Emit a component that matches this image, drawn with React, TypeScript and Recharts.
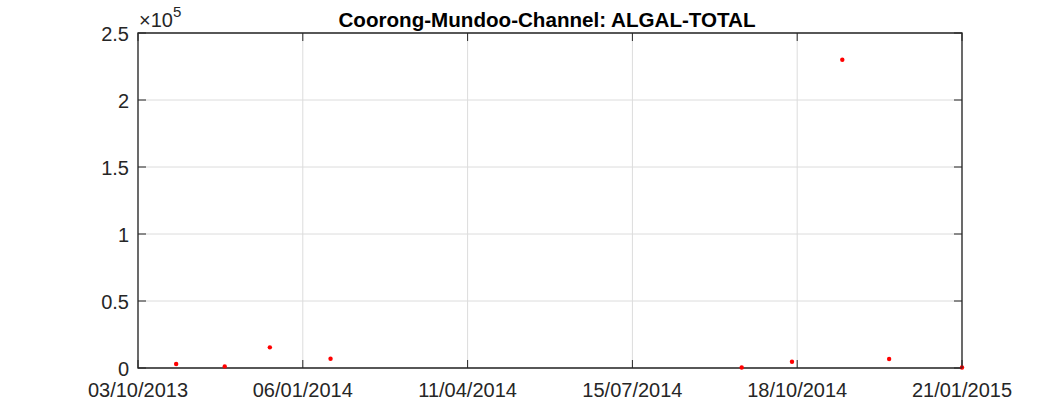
import React from 'react';
import { ScatterChart, Scatter, XAxis, YAxis, CartesianGrid, ReferenceArea } from 'recharts';

const sampleDates = [
    '2013-10-25', '2013-11-22', '2013-12-18', '2014-01-22',
    '2014-09-16', '2014-10-15', '2014-11-13', '2014-12-10', '2015-01-21',
];
const algalTotal = [3000, 1200, 15400, 6900, 400, 4700, 230000, 6700, 400];
const xTickDates = ['2013-10-03', '2014-01-06', '2014-04-11', '2014-07-15', '2014-10-18', '2015-01-21'];
const yTicks = [0, 50000, 100000, 150000, 200000, 250000];

const toMs = (s: string) => {
    const [y, m, d] = s.split('-').map(Number);
    return Date.UTC(y, m - 1, d);
};

const pad = (n: number) => (n < 10 ? '0' + n : '' + n);
const fmtDate = (ms: number) => {
    const d = new Date(ms);
    return `${pad(d.getUTCDate())}/${pad(d.getUTCMonth() + 1)}/${d.getUTCFullYear()}`;
};

const data = sampleDates.map((s, i) => ({ t: toMs(s), v: algalTotal[i] }));
const xTicks = xTickDates.map(toMs);
const xDomain = [xTicks[0], xTicks[xTicks.length - 1]];

const W = 1063;
const H = 413;
const MARGIN = { top: 33, right: 101, bottom: 0, left: 0 };
const X_AXIS_H = 45;
const Y_AXIS_W = 138;
const PLOT_TOP = MARGIN.top;
const PLOT_BOTTOM = H - MARGIN.bottom - X_AXIS_H;
const PLOT_LEFT = MARGIN.left + Y_AXIS_W;
const PLOT_RIGHT = W - MARGIN.right;

const FONT = '"Liberation Sans", Arial, Helvetica, sans-serif';
const AXIS = '#262626';
const TICK_LEN = 8;

// MATLAB style: ticks point inward, on all four sides
const BottomTick = (props: any) => {
    const { x, payload } = props;
    return (
        <g>
            <line x1={x} y1={PLOT_BOTTOM} x2={x} y2={PLOT_BOTTOM - TICK_LEN} stroke={AXIS} strokeWidth={1} />
            <line x1={x} y1={PLOT_TOP} x2={x} y2={PLOT_TOP + TICK_LEN} stroke={AXIS} strokeWidth={1} />
            <text x={x} y={PLOT_BOTTOM + 29} textAnchor="middle" fill={AXIS} fontSize={20} fontFamily={FONT}>
                {fmtDate(payload.value)}
            </text>
        </g>
    );
};

const LeftTick = (props: any) => {
    const { y, payload } = props;
    return (
        <g>
            <line x1={PLOT_LEFT} y1={y} x2={PLOT_LEFT + TICK_LEN} y2={y} stroke={AXIS} strokeWidth={1} />
            <line x1={PLOT_RIGHT} y1={y} x2={PLOT_RIGHT - TICK_LEN} y2={y} stroke={AXIS} strokeWidth={1} />
            <text x={PLOT_LEFT - 9} y={y + 8} textAnchor="end" fill={AXIS} fontSize={20} fontFamily={FONT}>
                {String(payload.value / 100000)}
            </text>
        </g>
    );
};

const Dot = (props: any) => {
    const { cx, cy } = props;
    return <circle cx={cx} cy={cy} r={2.2} fill="#ff0000" />;
};

const App: React.FC = () => {
    return (
        <div style={{ position: 'absolute', left: 0, top: 0, width: W, height: H, background: '#fff' }}>
            <ScatterChart width={W} height={H} margin={MARGIN}>
                <CartesianGrid stroke="#dcdcdc" strokeWidth={1} />
                <XAxis
                    dataKey="t"
                    type="number"
                    domain={xDomain}
                    ticks={xTicks}
                    height={X_AXIS_H}
                    tickSize={0}
                    tickMargin={0}
                    tickLine={false}
                    axisLine={false}
                    tick={<BottomTick />}
                    interval={0}
                />
                <YAxis
                    dataKey="v"
                    type="number"
                    domain={[0, 250000]}
                    ticks={yTicks}
                    width={Y_AXIS_W}
                    tickSize={0}
                    tickMargin={0}
                    tickLine={false}
                    axisLine={false}
                    tick={<LeftTick />}
                    interval={0}
                />
                <ReferenceArea
                    x1={xDomain[0]}
                    x2={xDomain[1]}
                    y1={0}
                    y2={250000}
                    fill="none"
                    fillOpacity={0}
                    stroke={AXIS}
                    strokeWidth={1.3}
                    strokeOpacity={1}
                    ifOverflow="visible"
                />
                <Scatter data={data} shape={<Dot />} isAnimationActive={false} />
                <text x={547} y={27} textAnchor="middle" fontSize={20.6} fontWeight="bold" fill="#000" fontFamily={FONT}>
                    Coorong-Mundoo-Channel: ALGAL-TOTAL
                </text>
                <text x={139} y={27} fill={AXIS} fontSize={20} fontFamily={FONT}>
                    ×10<tspan dy={-10} fontSize={15}>5</tspan>
                </text>
            </ScatterChart>
        </div>
    );
};

export default App;
